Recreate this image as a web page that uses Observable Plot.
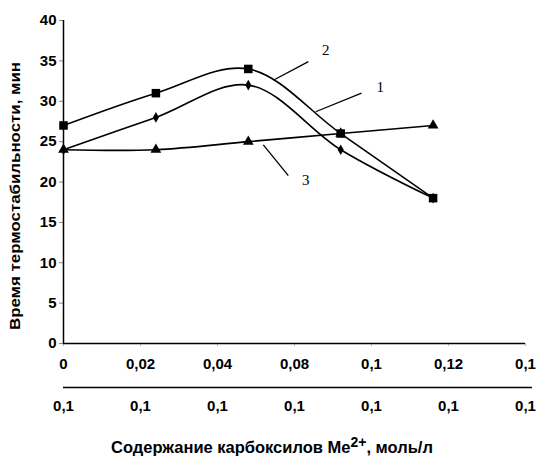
<!DOCTYPE html>
<html>
<head>
<meta charset="utf-8">
<script src="https://cdn.jsdelivr.net/npm/d3@7"></script>
<script src="https://cdn.jsdelivr.net/npm/@observablehq/plot@0.6"></script>
<style>
  html, body { margin: 0; padding: 0; background: #fff; }
  #chart svg { display: block; }
</style>
</head>
<body>
<div id="chart"></div>
<script>
// --- data ---
const xValues = [0, 0.024, 0.048, 0.072, 0.096];
const series1 = [24, 28, 32, 24, 18];   // diamonds, curve 1
const series2 = [27, 31, 34, 26, 18];   // squares, curve 2
const series3 = [24, 24, 25, 26, 27];   // triangles, curve 3

const xTicks = [0, 0.02, 0.04, 0.06, 0.08, 0.1, 0.12];
const xTickLabels = ["0", "0,02", "0,04", "0,08", "0,1", "0,12", "0,1"];
const xTickLabels2 = ["0,1", "0,1", "0,1", "0,1", "0,1", "0,1", "0,1"];
const yTicks = [0, 5, 10, 15, 20, 25, 30, 35, 40];

const labelNames = ["1", "2", "3"];
const labelX = [0.0823, 0.0681, 0.0629];
const labelY = [31.7, 36.3, 20.2];
const leaderX1 = [0.0655, 0.0545, 0.0519];
const leaderY1 = [28.7, 32.6, 24.6];
const leaderX2 = [0.0774, 0.0636, 0.0584];
const leaderY2 = [31.0, 34.9, 20.8];

const yTitle = "Время термостабильности, мин";
const xTitleMain = "Содержание карбоксилов Me";
const xTitleSup = "2+";
const xTitleEnd = ", моль/л";

// --- tables built from arrays ---
const rows = [];
[["1", series1, "diamond"], ["2", series2, "square"], ["3", series3, "triangle"]].forEach(([s, vals, sym]) => {
  vals.forEach((v, i) => rows.push({series: s, x: xValues[i], y: v, sym}));
});
const labels = labelNames.map((n, i) => ({n, x: labelX[i], y: labelY[i]}));
const leaders = labelNames.map((n, i) => ({x1: leaderX1[i], y1: leaderY1[i], x2: leaderX2[i], y2: leaderY2[i]}));

const font = "'Liberation Sans', Arial, sans-serif";

const svg = Plot.plot({
  width: 540,
  height: 456,
  marginTop: 20,
  marginBottom: 113,
  marginLeft: 63,
  marginRight: 15,
  style: {fontFamily: font, color: "#000", background: "#fff"},
  x: {domain: [0, 0.12]},
  y: {domain: [0, 40]},
  symbol: {domain: ["diamond", "square", "triangle"], range: ["diamond2", "square", "triangle"]},
  marks: [
    Plot.axisY({ticks: yTicks, tickSize: 4, tickPadding: 3, fontSize: 15, fontWeight: "bold", label: null, stroke: "#888"}),
    Plot.ruleX([0], {y1: 0, y2: 40, stroke: "#000", strokeWidth: 1.5}),
    Plot.axisX({ticks: xTicks, tickFormat: (d, i) => xTickLabels[i], tickSize: 3, tickPadding: 12, fontSize: 15, fontWeight: "bold", label: null, stroke: "#bbb"}),
    Plot.ruleY([0], {x1: 0, x2: 0.12, stroke: "#000", strokeWidth: 1.5}),
    Plot.axisX({ticks: xTicks, tickFormat: (d, i) => xTickLabels2[i], tickSize: 0, tickPadding: 57, fontSize: 15, fontWeight: "bold", label: null}),
    Plot.ruleY([0], {x1: 0, x2: 0.1218, dy: 44, stroke: "#000", strokeWidth: 1.5}),
    Plot.line(rows, {x: "x", y: "y", z: "series", curve: "catmull-rom", stroke: "#000", strokeWidth: 1.6}),
    Plot.dot(rows.filter(d => d.series === "3"), {x: "x", y: "y", symbol: "sym", fill: "#000", r: 4}),
    Plot.dot(rows.filter(d => d.series === "1"), {x: "x", y: "y", symbol: "sym", fill: "#000", r: 3.2}),
    Plot.dot(rows.filter(d => d.series === "2"), {x: "x", y: "y", symbol: "sym", fill: "#000", r: 4.8}),
    Plot.link(leaders, {x1: "x1", y1: "y1", x2: "x2", y2: "y2", stroke: "#000", strokeWidth: 1.3}),
    Plot.text(labels, {x: "x", y: "y", text: "n", fontFamily: "'Liberation Serif', 'DejaVu Serif', serif", fontSize: 15, fill: "#000"})
  ]
});

const sel = d3.select(svg);
// y title
sel.append("text")
  .attr("transform", "translate(20,196) rotate(-90)")
  .attr("text-anchor", "middle")
  .attr("font-family", font)
  .attr("font-size", 14)
  .attr("font-weight", "bold")
  .attr("fill", "#000")
  .attr("textLength", 268)
  .attr("lengthAdjust", "spacingAndGlyphs")
  .text(yTitle);
// x title
const xt = sel.append("text")
  .attr("x", 272)
  .attr("y", 453)
  .attr("text-anchor", "middle")
  .attr("font-family", font)
  .attr("font-size", 16.5)
  .attr("font-weight", "bold")
  .attr("fill", "#000");
xt.append("tspan").text(xTitleMain);
xt.append("tspan").attr("dy", -6).attr("font-size", 14).text(xTitleSup);
xt.append("tspan").attr("dy", 6).text(xTitleEnd);

document.getElementById("chart").appendChild(svg);
</script>
</body>
</html>
